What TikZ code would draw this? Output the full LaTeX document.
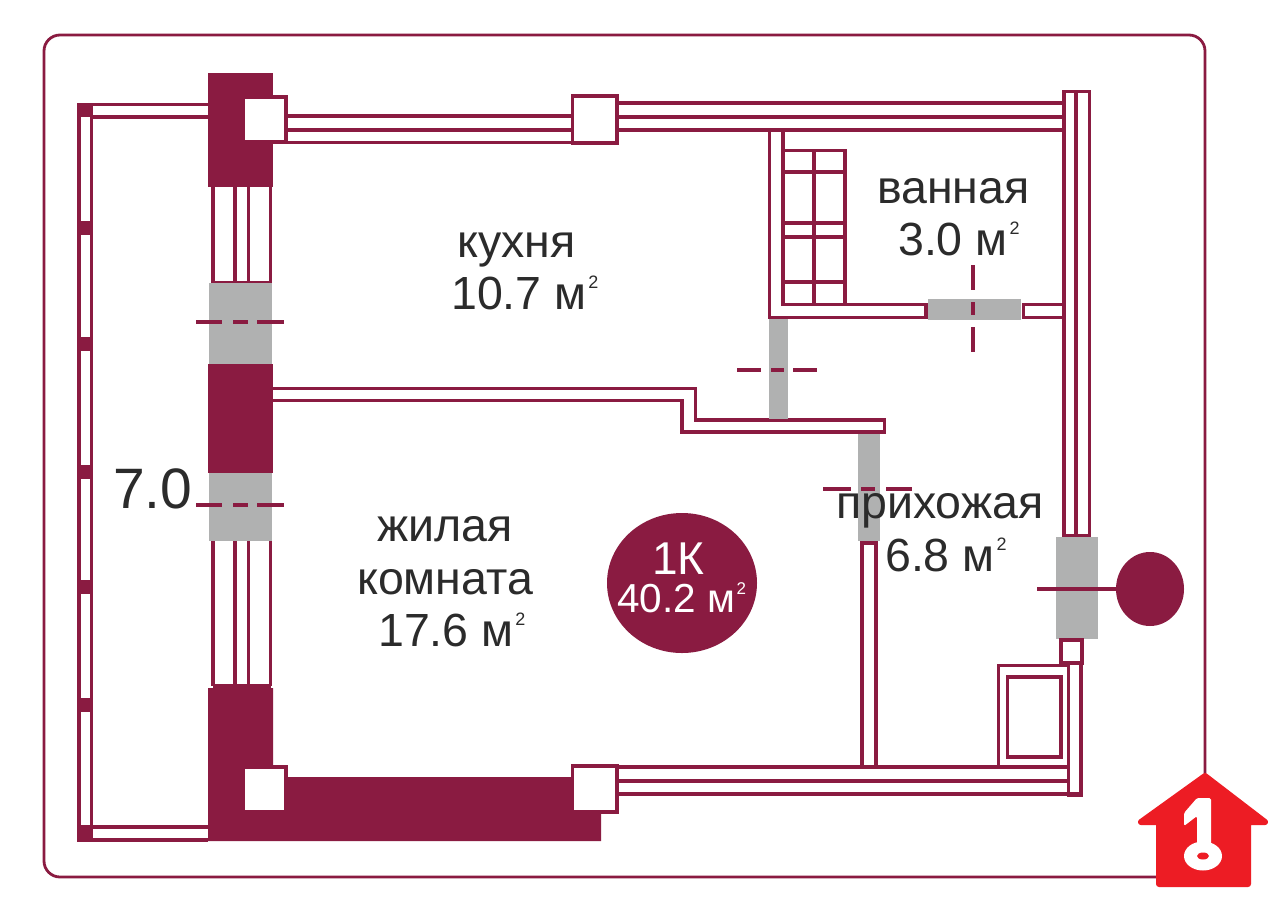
\documentclass[tikz,border=0pt]{standalone}
\usepackage{fontspec}
\setmainfont{Liberation Sans}
\usepackage{xcolor}
\definecolor{planwine}{HTML}{8A1B41}
\definecolor{plangrey}{HTML}{B0B1B1}
\definecolor{plantext}{HTML}{2B2B2B}
\definecolor{planred}{HTML}{ED1C24}
\newcommand{\sqmark}[1][18]{\hspace{0.04em}\raisebox{0.44em}{\fontsize{#1}{#1}\selectfont 2}}
\tikzset{
    wall/.style={draw=planwine, line width=3.6pt},
    frameline/.style={draw=planwine, line width=2.8pt},
    solid block/.style={fill=planwine},
    door/.style={fill=plangrey},
    dashline/.style={draw=planwine, line width=3.2pt},
    label/.style={anchor=base west, inner sep=0pt, text=plantext, font=\fontsize{46.5}{50}\selectfont},
    whitelabel/.style={anchor=base west, inner sep=0pt, text=white},
}
\begin{document}
\begin{tikzpicture}[x=1pt, y=-1pt]
    \useasboundingbox (0,0) rectangle (1280,922);
    \fill[white] (0,0) rectangle (1280,922);

    % outer frame
    \draw[frameline, rounded corners=16pt] (44,35) rectangle (1205,877);

    % balcony
    \draw[wall] (79,104) -- (79,840) -- (208,840);
    \draw[wall] (91.5,104) -- (91.5,827) -- (208,827);
    \draw[wall] (79,104.5) -- (208,104.5);
    \draw[wall] (91.5,117) -- (208,117);
    \foreach \y in {103,221,337,465,580,698,825} {
        \fill[solid block] (77,\y) rectangle (93,\y+14);
    }
    \fill[solid block] (77,825) rectangle (93,841);

    % outer piers
    \fill[solid block] (208,73) rectangle (273,187);
    \fill[solid block] (208,364) rectangle (273,473);
    \fill[solid block] (208,688) -- (273,688) -- (273,777) -- (572,777) -- (572,813)
        -- (601,813) -- (601,841) -- (208,841) -- cycle;

    % windows in the left wall
    \foreach \a/\b in {187/283, 541/686} {
        \foreach \x in {213,235,248.5,270.5} {
            \draw[wall] (\x,\a) -- (\x,\b);
        }
        \draw[wall] (213,\b) -- (270.5,\b);
    }
    \fill[door] (209,283) rectangle (272,364);
    \fill[door] (209,473) rectangle (272,541);

    % top and bottom walls
    \draw[wall] (285,116) -- (572,116);
    \draw[wall, line width=4pt] (285,129.5) -- (572,129.5);
    \draw[wall] (285,142.5) -- (572,142.5);
    \draw[wall] (618,103) -- (1064,103);
    \draw[wall, line width=4pt] (618,117) -- (1064,117);
    \draw[wall] (618,130) -- (1064,130);
    \draw[wall] (618,767) -- (1068,767);
    \draw[wall, line width=4pt] (618,781) -- (1068,781);
    \draw[wall] (618,794) -- (1081,794);

    % columns
    \foreach \x/\y/\w/\h in {243/97/42/44, 243/767/42/44} {
        \draw[planwine, line width=3.5pt, fill=white] (\x,\y) rectangle (\x+\w+1,\y+\h+1);
    }
    \fill[solid block] (208,94) rectangle (243,144);
    \fill[solid block] (243,144.5) rectangle (273,187);
    \fill[solid block] (243,73) rectangle (273,96);
    \fill[solid block] (208,764) rectangle (243,813);
    \fill[solid block] (243,812) rectangle (288,841);
    \fill[solid block] (243,764) rectangle (273,767);
    \draw[wall, fill=white] (572.5,96) rectangle (617,143);
    \draw[wall, fill=white] (572.5,766) rectangle (617,812);

    % right wall
    \draw[wall] (1064,536) -- (1064,91.5) -- (1089.5,91.5) -- (1089.5,536) -- cycle;
    \draw[wall] (1076,91.5) -- (1076,536);
    \fill[door] (1056,537) rectangle (1098,639);
    \draw[wall] (1061,640) rectangle (1082,663);
    \draw[wall] (1068.5,663) rectangle (1081,795);

    % shaft
    \draw[wall] (998.5,767) -- (998.5,665.5) -- (1068,665.5);
    \draw[wall] (1007.5,677) rectangle (1061,757);

    % bathroom
    \draw[wall] (769.5,130) -- (769.5,317.5) -- (926,317.5) -- (926,304.5) -- (783,304.5) -- (783,130);
    \draw[wall] (1064,304.5) -- (1023.5,304.5) -- (1023.5,317.5) -- (1064,317.5);
    \fill[door] (928,299) rectangle (1021,320);
    \draw[wall] (783,150.5) -- (845,150.5) -- (845,304);
    \draw[wall] (814,150) -- (814,304);
    \foreach \y in {172,223,237,282} {
        \draw[wall] (783,\y) -- (845,\y);
    }

    % inner walls
    \draw[wall] (273,388.5) -- (695.5,388.5) -- (695.5,420) -- (884.5,420) -- (884.5,432) -- (682,432)
        -- (682,400.5) -- (273,400.5);
    \fill[door] (769,319) rectangle (788,418.5);
    \fill[door] (858,433.5) rectangle (880,541);
    \draw[wall] (862,767) -- (862,543) -- (876,543) -- (876,767);

    % door marks
    \foreach \a/\b in {196/222, 233/248, 257/284} {
        \draw[dashline] (\a,322) -- (\b,322);
        \draw[dashline] (\a,505) -- (\b,505);
    }
    \foreach \a/\b in {737/761, 771/784, 793/817} {
        \draw[dashline] (\a,370) -- (\b,370);
    }
    \foreach \a/\b in {823/851, 861/875, 886/912} {
        \draw[dashline] (\a,489) -- (\b,489);
    }
    \foreach \a/\b in {265/290, 302/315, 327/352} {
        \draw[dashline] (973,\a) -- (973,\b);
    }
    \draw[dashline] (1037,589) -- (1120,589);
    \fill[planwine] (1150,589) ellipse [x radius=34, y radius=37];

    % room labels
    \node[label] (kitchen) at (457,257) {кухня};
    \node[label] (kitchenarea) at (451,309) {10.7 м\sqmark};
    \node[label] (bath) at (877,203) {ванная};
    \node[label] (batharea) at (898,255) {3.0 м\sqmark};
    \node[label] (hall) at (836,518) {прихожая};
    \node[label] (hallarea) at (885,571) {6.8 м\sqmark};
    \node[label] (living) at (377,541) {жилая};
    \node[label] (livingb) at (357,594) {комната};
    \node[label] (livingarea) at (378,646) {17.6 м\sqmark};
    \node[label, font=\fontsize{57}{60}\selectfont] (balcony) at (113,508) {7.0};

    % totals
    \fill[planwine] (682,583) ellipse [x radius=75, y radius=70];
    \node[whitelabel, font=\fontsize{46}{50}\selectfont] (flat) at (652,574) {1К};
    \node[whitelabel, font=\fontsize{40.5}{44}\selectfont] (total) at (617,612) {40.2 м\sqmark[17]};

    % house badge
    \filldraw[fill=planred, draw=planred, line width=6pt, line join=round] (1205,776) -- (1265,822) -- (1248,822)
        -- (1248,884) -- (1159,884) -- (1159,822) -- (1141,822) -- cycle;
    \fill[white, rounded corners=1.5pt] (1211,798) -- (1211,846) -- (1197,846) -- (1197,816) -- (1184,826)
        -- (1184,813) -- (1197,798) -- cycle;
    \fill[white] (1203,856) ellipse [x radius=19, y radius=14.5];
    \fill[planred] (1203,856) ellipse [x radius=6, y radius=3.5];
\end{tikzpicture}
\end{document}
